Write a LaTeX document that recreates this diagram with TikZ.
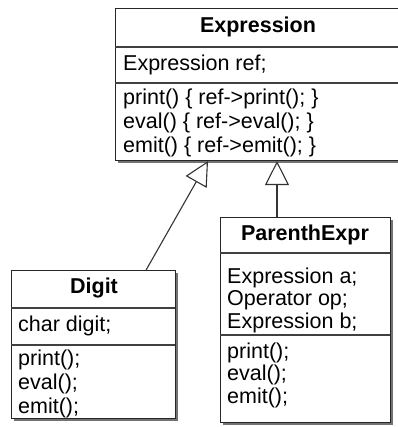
\documentclass[tikz,border=0pt]{standalone}
\usepackage{fontspec}
\setmainfont{Liberation Sans}
\usetikzlibrary{arrows.meta}

\begin{document}
\begin{tikzpicture}[x=1pt,y=-1pt,
  classbox/.style={draw=black!85, line width=1.1pt, fill=white, inner sep=0pt, anchor=north west},
  boxshade/.style={fill=black!55},
  sepline/.style={draw=black!75, line width=1.4pt},
  classname/.style={font=\fontsize{21.5}{24}\selectfont\bfseries, inner sep=0pt},
  member/.style={font=\fontsize{21.5}{24}\selectfont, align=left, anchor=west, inner sep=0pt},
  tightmember/.style={member, font=\fontsize{21.5}{22.5}\selectfont},
  inherit/.style={draw=black!80, line width=1.1pt,
    -{Triangle[open, length=24pt, width=24pt, fill=white, line width=1.1pt]}}
]
\useasboundingbox (0,0) rectangle (397,427);

% Expression
\fill[boxshade] (118,11) rectangle (404,163);
\node[classbox, minimum width=286pt, minimum height=152pt] (expr) at (115,8) {};
\draw[sepline] (115,47) -- (401,47);
\draw[sepline] (115,83) -- (401,83);
\node[classname] (exprname) at (258,27) {Expression};
\node[member] (exprattr) at (123,65) {Expression ref;};
\node[member] (exprops) at (123,123) {print() \{ ref->print(); \}\\eval() \{ ref->eval(); \}\\emit() \{ ref->emit(); \}};

% Digit
\fill[boxshade] (14,273) rectangle (178,421);
\node[classbox, minimum width=164pt, minimum height=148pt] (digit) at (11,270) {};
\draw[sepline] (11,308) -- (175,308);
\draw[sepline] (11,345) -- (175,345);
\node[classname] (digitname) at (94,288) {Digit};
\node[member] (digitattr) at (18,326) {char digit;};
\node[member] (digitops) at (18,384) {print();\\eval();\\emit();};

% ParenthExpr
\fill[boxshade] (223,220) rectangle (393,425);
\node[classbox, minimum width=170pt, minimum height=205pt] (pexpr) at (220,217) {};
\draw[sepline] (220,253) -- (390,253);
\draw[sepline] (220,335) -- (390,335);
\node[classname] (pexprname) at (305,235) {ParenthExpr};
\node[tightmember] (pexprattr) at (227,300) {Expression a;\\Operator op;\\Expression b;};
\node[tightmember] (pexprops) at (227,375) {print();\\eval();\\emit();};

% Generalisation arrows
\draw[inherit] ([xshift=-30pt]digit.north east) -- ([xshift=93pt]expr.south west);
\draw[inherit] ([xshift=57pt]pexpr.north west) -- ([xshift=162pt]expr.south west);
\end{tikzpicture}
\end{document}
